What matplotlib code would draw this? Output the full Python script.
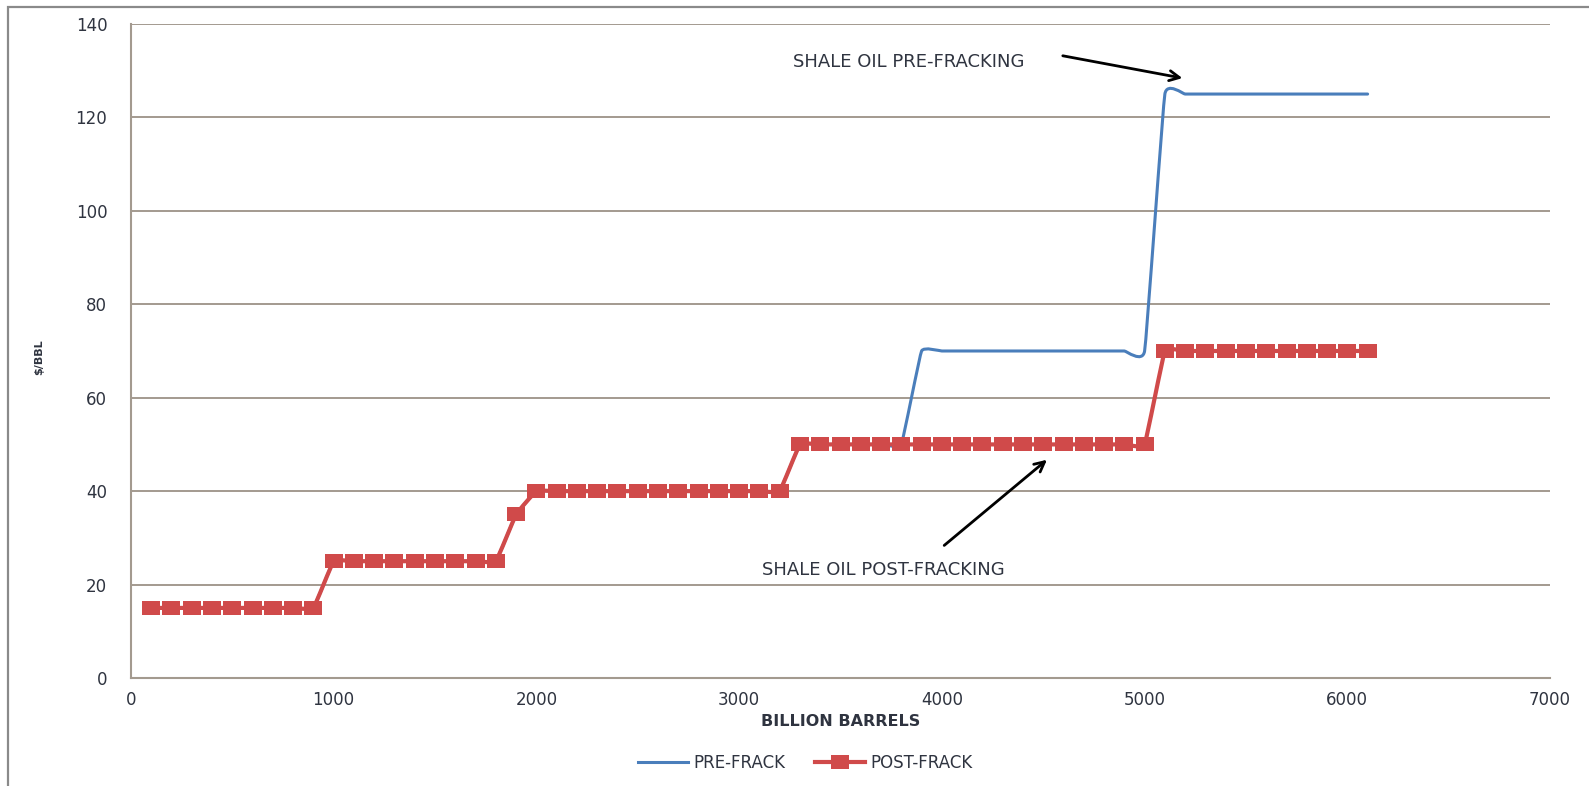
import numpy as np
import matplotlib
matplotlib.use("Agg")
from matplotlib import pyplot as plt
from matplotlib.path import Path
from matplotlib.patches import PathPatch, Rectangle
from matplotlib.lines import Line2D

# Cumulative supply (billion barrels) against cost ($/bbl)
barrels = [100, 200, 300, 400, 500, 600, 700, 800, 900,
           1000, 1100, 1200, 1300, 1400, 1500, 1600, 1700, 1800,
           1900,
           2000, 2100, 2200, 2300, 2400, 2500, 2600, 2700, 2800, 2900,
           3000, 3100, 3200,
           3300, 3400, 3500, 3600, 3700, 3800, 3900, 4000, 4100, 4200,
           4300, 4400, 4500, 4600, 4700, 4800, 4900, 5000,
           5100, 5200, 5300, 5400, 5500, 5600, 5700, 5800, 5900, 6000,
           6100]

pre_frack = [15, 15, 15, 15, 15, 15, 15, 15, 15,
             25, 25, 25, 25, 25, 25, 25, 25, 25,
             35,
             40, 40, 40, 40, 40, 40, 40, 40, 40, 40, 40, 40, 40,
             50, 50, 50, 50, 50, 50, 70, 70, 70, 70,
             70, 70, 70, 70, 70, 70, 70, 70,
             125, 125, 125, 125, 125, 125, 125, 125, 125, 125,
             125]

post_frack = [15, 15, 15, 15, 15, 15, 15, 15, 15,
              25, 25, 25, 25, 25, 25, 25, 25, 25,
              35,
              40, 40, 40, 40, 40, 40, 40, 40, 40, 40, 40, 40, 40,
              50, 50, 50, 50, 50, 50, 50, 50, 50, 50,
              50, 50, 50, 50, 50, 50, 50, 50,
              70, 70, 70, 70, 70, 70, 70, 70, 70, 70,
              70]

x_ticks = [0, 1000, 2000, 3000, 4000, 5000, 6000, 7000]
y_ticks = [0, 20, 40, 60, 80, 100, 120, 140]

BLUE = "#4A7EBB"
RED = "#D04A4A"
GRID = "#a39a8f"
TEXT = "#2f3440"

# slightly wide rectangle used as the square marker
WIDE_SQUARE = Path([(-0.65, -0.5), (0.65, -0.5), (0.65, 0.5), (-0.65, 0.5),
                    (-0.65, -0.5)], closed=True)


def smooth_path(xs, ys, k=0.05):
    """Bezier path through the points, spreadsheet-style smoothed line."""
    pts = np.column_stack([xs, ys]).astype(float)
    n = len(pts)
    verts = [pts[0]]
    codes = [Path.MOVETO]
    for i in range(n - 1):
        prev = pts[max(i - 1, 0)]
        nxt = pts[min(i + 2, n - 1)]
        c1 = pts[i] + k * (pts[i + 1] - prev)
        c2 = pts[i + 1] - k * (nxt - pts[i])
        verts += [c1, c2, pts[i + 1]]
        codes += [Path.CURVE4] * 3
    return Path(verts, codes)


fig = plt.figure(figsize=(15.89, 7.86), dpi=100)
ax = fig.add_axes([0.0824, 0.1374, 0.8931, 0.8321])

# outer chart frame
fig.patches.append(Rectangle((8 / 1589, -0.2), 1.2, 1.2 - 7 / 786,
                             transform=fig.transFigure, fill=False,
                             edgecolor="#8a8a8a", lw=1.6, zorder=0))

ax.add_patch(PathPatch(smooth_path(barrels, pre_frack), facecolor="none",
                       edgecolor=BLUE, lw=2.2, joinstyle="round",
                       capstyle="round", zorder=3))
ax.add_patch(PathPatch(smooth_path(barrels, post_frack), facecolor="none",
                       edgecolor=RED, lw=3.0, joinstyle="round",
                       capstyle="round", zorder=4))
ax.plot(barrels, post_frack, linestyle="none", marker=WIDE_SQUARE,
        markersize=12.5, color=RED, markeredgewidth=0, zorder=5)

ax.set_xlim(0, 7000)
ax.set_ylim(0, 140)
ax.set_xticks(x_ticks)
ax.set_yticks(y_ticks)
ax.tick_params(length=0, labelsize=12, labelcolor=TEXT)
ax.tick_params(axis="y", pad=17)
ax.tick_params(axis="x", pad=9)

ax.yaxis.grid(True, color=GRID, lw=1.4)
ax.set_axisbelow(True)
for side in ["top", "right"]:
    ax.spines[side].set_visible(False)
for side in ["left", "bottom"]:
    ax.spines[side].set_color(GRID)
    ax.spines[side].set_linewidth(1.5)

ax.set_xlabel("BILLION BARRELS", fontsize=11.5, fontweight="bold", color=TEXT)
ax.xaxis.label.set_va("center")
ax.xaxis.set_label_coords(0.5, -0.066)
ax.set_ylabel(r"\$/BBL", fontsize=8, fontweight="bold", color=TEXT)
ax.yaxis.label.set_va("center")
ax.yaxis.set_label_coords(-0.065, 0.49)

ax.annotate("", xy=(5200, 128.3), xytext=(4583, 133.3),
            arrowprops=dict(arrowstyle="->", color="black", lw=2,
                            mutation_scale=18))
ax.text(3836, 131.8, "SHALE OIL PRE-FRACKING", fontsize=13, color=TEXT,
        ha="center", va="center")

ax.annotate("", xy=(4529, 47.1), xytext=(4001, 28.0),
            arrowprops=dict(arrowstyle="->", color="black", lw=2,
                            mutation_scale=18))
ax.text(3710, 23.1, "SHALE OIL POST-FRACKING", fontsize=13, color=TEXT,
        ha="center", va="center")

handles = [Line2D([], [], color=BLUE, lw=2.2),
           Line2D([], [], color=RED, lw=3.0, marker=WIDE_SQUARE,
                  markersize=12.5, markeredgewidth=0)]
fig.legend(handles, ["PRE-FRACK", "POST-FRACK"], loc="center",
           bbox_to_anchor=(0.507, 0.029), ncol=2, frameon=False,
           fontsize=12, handlelength=3.0, handletextpad=0.3,
           columnspacing=1.8, labelcolor=TEXT)

fig.savefig("out.png", dpi=100)
